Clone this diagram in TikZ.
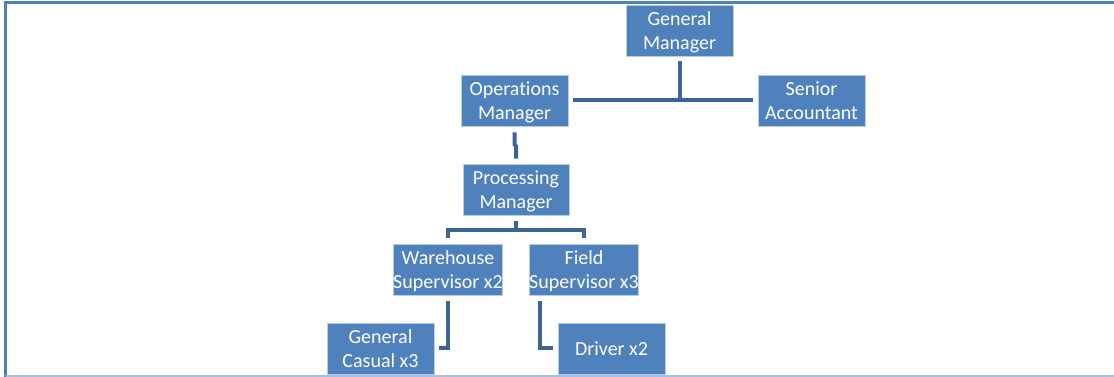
\documentclass[tikz,border=0pt]{standalone}
\usepackage{fontspec}
\setmainfont{Carlito}[Ligatures=NoCommon]
\usepackage{tikz}
\usetikzlibrary{positioning}
\definecolor{qqwubd}{rgb}{0.30980392156862746,0.5058823529411764,0.7411764705882353}
\definecolor{qqdwff}{rgb}{0.7254901960784313,0.803921568627451,0.8980392156862745}
\definecolor{wwqqcc}{rgb}{0.23529411764705882,0.39215686274509803,0.5882352941176471}
\definecolor{qqeeff}{rgb}{0.6627450980392157,0.7490196078431373,0.8784313725490196}
\tikzset{
  post/.style={rectangle,fill=qqwubd,draw=qqdwff,line width=0.8pt,text=white,
    minimum width=107pt,minimum height=51pt,inner sep=0pt,align=center,
    text depth=0pt,font=\fontsize{20}{24}\selectfont},
  conn/.style={line width=4pt,color=wwqqcc}
}
\begin{document}
\begin{tikzpicture}[line cap=butt,line join=miter,x=1pt,y=1pt]
\useasboundingbox (0,0) rectangle (1114,377);
% frame
\draw[line width=2.5pt,color=qqwubd] (5.5,0) -- (5.5,374.5) -- (1114,374.5);
\draw[line width=1.2pt,color=qqeeff] (5.5,1) -- (1114,1);
% posts
\node[post] (gm) at (679.5,346.5) {General\\Manager};
\node[post] (ops) at (514.5,276.5) {Operations\\Manager};
\node[post] (acct) at (811.5,276.5) {Senior\\Accountant};
\node[post,minimum width=106pt] (proc) at (516,187.5) {Processing\\Manager};
\node[post,minimum width=108pt] (ware) at (448,107.5) {Warehouse\\Supervisor x2};
\node[post,minimum width=106pt] (field) at (584,107.5) {Field\\Supervisor x3};
\node[post] (casual) at (380.5,28.5) {General\\Casual x3};
\node[post] (driver) at (611.5,28.5) {Driver x2};
% lines
\draw[conn] ([xshift=5pt]ops.east) -- ([xshift=-5pt]acct.west);
\draw[conn] ([yshift=-5pt]gm.south) -- (gm.south |- ops.east);
\draw[conn] ([yshift=-6pt]ops.south) -- ++(0,-12) -- ++(1.5,-2) -- ([yshift=5pt]proc.north);
\draw[conn] ([yshift=-6pt]proc.south) -- ([yshift=-15pt]proc.south);
\draw[conn] ([yshift=6pt]ware.north) |- ([yshift=-15pt]proc.south) -| ([yshift=6pt]field.north);
\draw[conn] ([yshift=-6pt]ware.south) |- ([xshift=5pt]casual.east);
\draw[conn] ([xshift=-44pt,yshift=-6pt]field.south) |- ([xshift=-5pt]driver.west);
\end{tikzpicture}
\end{document}
